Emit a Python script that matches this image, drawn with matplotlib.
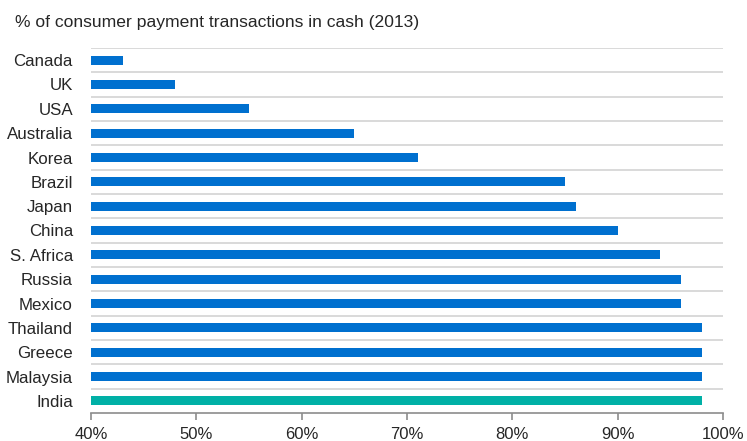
import matplotlib
matplotlib.use("Agg")
import matplotlib.pyplot as plt
import numpy as np

# Data
countries = ["Canada", "UK", "USA", "Australia", "Korea", "Brazil", "Japan", "China",
             "S. Africa", "Russia", "Mexico", "Thailand", "Greece", "Malaysia", "India"]
cash_share = [43, 48, 55, 65, 71, 85, 86, 90, 94, 96, 96, 98, 98, 98, 98]
highlight = "India"
title = "% of consumer payment transactions in cash (2013)"
xticks = [40, 50, 60, 70, 80, 90, 100]

BLUE = "#0070cf"
TEAL = "#00b0a6"
TEXT = "#262626"

plt.rcParams["font.family"] = ["Liberation Sans", "DejaVu Sans"]

fig = plt.figure(figsize=(7.47, 4.41), dpi=100)
ax = fig.add_axes([91 / 747, 1 - 413 / 441, (723 - 91) / 747, (413 - 48) / 441])

y = np.arange(len(countries))
colors = [TEAL if c == highlight else BLUE for c in countries]
ax.barh(y, np.array(cash_share) - 40, left=40, height=0.37, color=colors, zorder=3)

# light separators between categories
ax.hlines(np.arange(len(countries)) - 0.5, 40, 100, color="#d9d9d9", lw=1.4, zorder=1)

ax.set_xlim(40, 100)
ax.set_ylim(len(countries) - 0.5, -0.5)
ax.set_yticks(y)
ax.set_yticklabels(countries, fontsize=12.2, color=TEXT)
ax.tick_params(axis="y", length=0, pad=13)
ax.set_xticks(xticks)
ax.set_xticklabels([f"{t}%" for t in xticks], fontsize=12, color=TEXT)
ax.tick_params(axis="x", length=5, width=1.2, color="#8c8c8c", direction="out", pad=5)

for side in ["top", "right", "left"]:
    ax.spines[side].set_visible(False)
ax.spines["bottom"].set_color("#8c8c8c")
ax.spines["bottom"].set_linewidth(1.2)

fig.text(15 / 747, 1 - 22 / 441, title, fontsize=12.6, color=TEXT, va="center", ha="left")

fig.savefig("out.png", dpi=100)
